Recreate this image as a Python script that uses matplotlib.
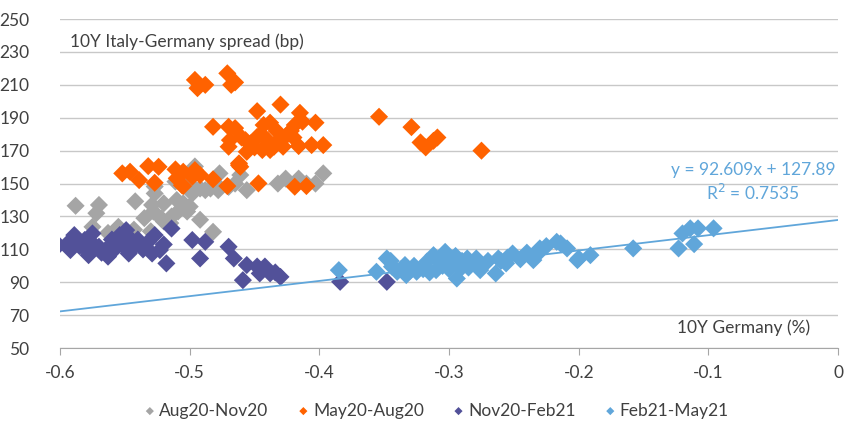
import matplotlib.pyplot as plt
import numpy as np

# Aug20-Nov20
aug_x = [-0.588, -0.570, -0.572, -0.575, -0.542, -0.529, -0.527, -0.528, -0.535, -0.520,
         -0.514, -0.505, -0.502, -0.492, -0.482, -0.496, -0.492, -0.484, -0.477, -0.470,
         -0.461, -0.456, -0.426, -0.416, -0.403, -0.397, -0.555, -0.543, -0.527, -0.511,
         -0.498, -0.510, -0.520, -0.515, -0.530, -0.480, -0.465, -0.500, -0.488, -0.432,
         -0.410, -0.522, -0.509, -0.500, -0.478, -0.563]
aug_y = [136.5, 137, 132, 123.7, 139.2, 137, 144, 133, 129, 127,
         130, 138, 133, 128, 120.7, 160.4, 147, 147, 156.2, 148,
         155.2, 146, 153, 153, 150, 156.2, 123.7, 122, 148.2, 151.2,
         144, 140, 138, 126, 121, 150, 150, 150, 146, 150,
         150, 128.8, 133, 136, 146, 120]

# May20-Aug20
may_x = [-0.496, -0.494, -0.488, -0.471, -0.465, -0.468, -0.430, -0.448, -0.482, -0.470,
         -0.465, -0.415, -0.413, -0.419, -0.403, -0.443, -0.438, -0.469, -0.457, -0.453,
         -0.448, -0.440, -0.435, -0.430, -0.428, -0.425, -0.470, -0.456, -0.444, -0.438,
         -0.416, -0.406, -0.397, -0.462, -0.461, -0.445, -0.433, -0.420, -0.422, -0.440,
         -0.450, -0.460, -0.354, -0.329, -0.322, -0.318, -0.312, -0.309, -0.275, -0.552,
         -0.546, -0.539, -0.532, -0.524, -0.527, -0.511, -0.505, -0.505, -0.496, -0.492,
         -0.482, -0.471, -0.462, -0.447, -0.419, -0.410, -0.498, -0.510, -0.506]
may_y = [213, 208, 210, 217, 211.5, 210, 198, 194, 184.5, 184.5,
         183.7, 193, 187.6, 185.6, 187, 185.6, 187, 176.4, 176.4, 174.4,
         178.4, 176.4, 172.4, 177.5, 172.4, 179.5, 172.4, 169.3, 170.4, 170.4,
         172.8, 173.4, 173.4, 162.3, 160.2, 180, 182, 178, 182, 174,
         172, 178, 190.6, 184.3, 175, 172, 176, 178, 170, 156.2,
         157.2, 152.1, 160.6, 160.2, 150.5, 158.6, 157.2, 148.5, 158.2, 155.2,
         152.6, 148.5, 161.2, 150.1, 148.1, 148.5, 154.2, 153.2, 149]

# Nov20-Feb21
nov_x = [-0.601, -0.592, -0.589, -0.581, -0.575, -0.570, -0.565, -0.578, -0.563, -0.554,
         -0.549, -0.543, -0.547, -0.540, -0.532, -0.527, -0.523, -0.529, -0.514, -0.518,
         -0.498, -0.585, -0.595, -0.574, -0.560, -0.552, -0.545, -0.536, -0.520, -0.488,
         -0.492, -0.470, -0.466, -0.456, -0.459, -0.448, -0.442, -0.438, -0.430, -0.446,
         -0.434, -0.384, -0.348, -0.568, -0.558, -0.580, -0.550]
nov_y = [112.6, 109.6, 118.7, 115.7, 119.7, 111.6, 109.6, 106.5, 105.6, 118.7,
         121.7, 111.6, 107.5, 116, 114.6, 118.7, 109.6, 107.5, 122.7, 101.5,
         115.7, 112, 113, 113, 116, 113, 116, 110, 113, 114.6,
         104.5, 111.6, 104.5, 100.5, 91.3, 99.6, 99.6, 95.4, 93.3, 95.4,
         96, 90.3, 90.3, 108, 110, 110, 111]

# Feb21-May21
feb_x = [-0.385, -0.356, -0.348, -0.344, -0.340, -0.334, -0.333, -0.325, -0.317, -0.312,
         -0.310, -0.303, -0.302, -0.297, -0.294, -0.291, -0.286, -0.279, -0.276, -0.264,
         -0.262, -0.256, -0.251, -0.235, -0.230, -0.217, -0.209, -0.201, -0.214, -0.200,
         -0.191, -0.158, -0.123, -0.120, -0.114, -0.108, -0.111, -0.096, -0.345, -0.337,
         -0.330, -0.327, -0.320, -0.315, -0.308, -0.305, -0.300, -0.298, -0.295, -0.290,
         -0.285, -0.270, -0.260, -0.255, -0.245, -0.240, -0.232, -0.225]
feb_y = [97.4, 96.4, 104.5, 99.5, 96.4, 100.5, 94.4, 96.4, 102.6, 106.5,
         97.4, 108.5, 102.6, 104.5, 92.3, 98.4, 104.5, 104.5, 97.4, 95.4,
         104.5, 101.5, 107.5, 103.5, 110.6, 114.6, 110.6, 103.5, 113.6, 104.5,
         106.5, 110.6, 110.6, 119.7, 122.8, 122.8, 113.2, 122.8, 103, 98,
         97, 100, 98, 96, 104, 100, 98, 101, 106, 103,
         99, 103, 103, 105, 104, 108, 107, 112]

# linear trend shown on the chart (Feb21-May21)
slope = 92.609
intercept = 127.89

series = [
    ("Aug20-Nov20", aug_x, aug_y, "#A5A5A5"),
    ("May20-Aug20", may_x, may_y, "#FF6200"),
    ("Nov20-Feb21", nov_x, nov_y, "#525199"),
    ("Feb21-May21", feb_x, feb_y, "#60A6DA"),
]

plt.rcParams['font.family'] = ['Lato', 'DejaVu Sans']
text_col = "#404040"

fig = plt.figure(figsize=(8.48, 4.23), dpi=100)
ax = fig.add_axes([0.0708, 0.177, 0.9175, 0.778])

for label, xs, ys, col in series:
    ax.scatter(xs, ys, marker="D", s=85, color=col, edgecolors="none", label=label, zorder=3)

line_x = np.array([-0.6, 0.0])
ax.plot(line_x, slope * line_x + intercept, color="#60A6DA", lw=1.3, zorder=4)

ax.set_xlim(-0.6, 0)
ax.set_ylim(50, 250)
ax.set_yticks(range(50, 251, 20))
ax.set_xticks([-0.6, -0.5, -0.4, -0.3, -0.2, -0.1, 0])
ax.set_xticklabels(["-0.6", "-0.5", "-0.4", "-0.3", "-0.2", "-0.1", "0"])
ax.grid(axis="y", color="#C8C8C8", lw=1)
ax.set_axisbelow(True)
for side in ["top", "right", "left"]:
    ax.spines[side].set_visible(False)
ax.spines["bottom"].set_color("#A6A6A6")
ax.tick_params(axis="y", length=0, pad=22, labelsize=12.5, colors=text_col)
ax.tick_params(axis="x", length=5, color="#A6A6A6", pad=7, labelsize=12.5, labelcolor=text_col)

ax.text(0.013, 0.93, "10Y Italy-Germany spread (bp)", transform=ax.transAxes,
        fontsize=12.5, color=text_col, va="center", ha="left")
ax.text(0.964, 0.061, "10Y Germany (%)", transform=ax.transAxes,
        fontsize=12.5, color=text_col, va="center", ha="right")
ax.text(0.891, 0.541, "y = 92.609x + 127.89", transform=ax.transAxes,
        fontsize=12.5, color="#60A6DA", va="center", ha="center")
ax.text(0.891, 0.471, "R$^2$ = 0.7535", transform=ax.transAxes,
        fontsize=12.5, color="#60A6DA", va="center", ha="center")

ax.legend(loc="center", bbox_to_anchor=(0.482, -0.19), ncol=4, frameon=False,
          fontsize=12.5, markerscale=0.45, handletextpad=0.05, columnspacing=1.5,
          handlelength=1.0, labelcolor=text_col)

fig.savefig("out.png", dpi=100)
